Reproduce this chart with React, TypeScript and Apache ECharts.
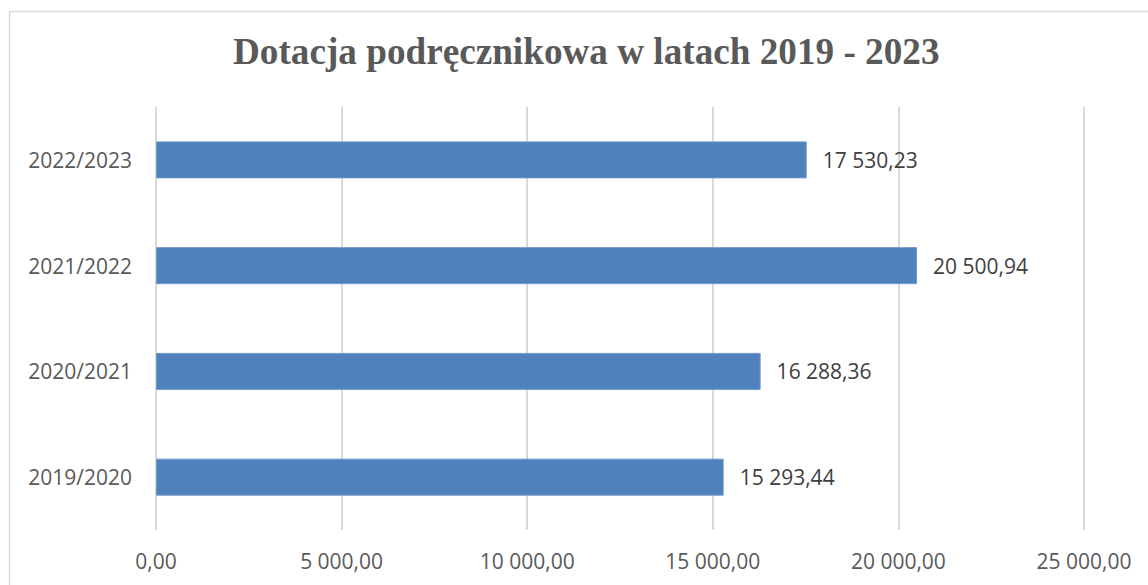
import React, { useEffect, useRef } from "react";
import * as echarts from "echarts";

const categories = ["2019/2020", "2020/2021", "2021/2022", "2022/2023"];
const values = [15293.44, 16288.36, 20500.94, 17530.23];
const axisMin = 0;
const axisMax = 25000;
const axisInterval = 5000;
const titleText = "Dotacja podręcznikowa w latach 2019 - 2023";

function fmt(v: number): string {
  const fixed = Math.abs(v).toFixed(2);
  const [intPart, dec] = fixed.split(".");
  const withSep = intPart.replace(/\B(?=(\d{3})+(?!\d))/g, " ");
  return (v < 0 ? "-" : "") + withSep + "," + dec;
}

export default function App() {
  const ref = useRef<HTMLDivElement>(null);
  useEffect(() => {
    if (!ref.current) return;
    const chart = echarts.init(ref.current, undefined, { renderer: "svg" });
    chart.setOption({
      animation: false,
      backgroundColor: "#ffffff",
      title: {
        text: titleText,
        left: 233,
        top: 33,
        padding: 0,
        textStyle: {
          fontFamily: "Liberation Serif",
          fontWeight: "bold",
          fontSize: 37.2,
          color: "#595959",
        },
      },
      graphic: [
        {
          type: "rect",
          shape: { x: 9.5, y: 11.5, width: 1160, height: 600 },
          style: { fill: "none", stroke: "#d9d9d9", lineWidth: 1.5 },
          silent: true,
        },
      ],
      grid: { left: 156, right: 64, top: 107, bottom: 55, containLabel: false },
      xAxis: {
        type: "value",
        min: axisMin,
        max: axisMax,
        interval: axisInterval,
        axisLine: { show: false },
        axisTick: { show: false },
        splitLine: { show: true, lineStyle: { color: "#d9d9d9", width: 2 } },
        axisLabel: {
          formatter: (v: number) => fmt(v),
          fontFamily: "Open Sans",
          fontSize: 21,
          color: "#595959",
          margin: 20,
        },
      },
      yAxis: {
        type: "category",
        data: categories,
        axisLine: { show: false },
        axisTick: { show: false },
        splitLine: { show: false },
        axisLabel: {
          fontFamily: "Open Sans",
          fontSize: 21,
          color: "#595959",
          margin: 24,
        },
      },
      series: [
        {
          type: "bar",
          data: values,
          barWidth: 37,
          itemStyle: { color: "#4f81bd", borderColor: "#6f98cc", borderWidth: 1 },
          label: {
            show: true,
            position: "right",
            distance: 16,
            formatter: (p: any) => fmt(p.value),
            fontFamily: "Open Sans",
            fontSize: 21,
            color: "#404040",
          },
        },
      ],
    });
    return () => chart.dispose();
  }, []);
  return (
    <div
      ref={ref}
      style={{ position: "fixed", left: 0, top: 0, width: 1148, height: 585 }}
    />
  );
}
